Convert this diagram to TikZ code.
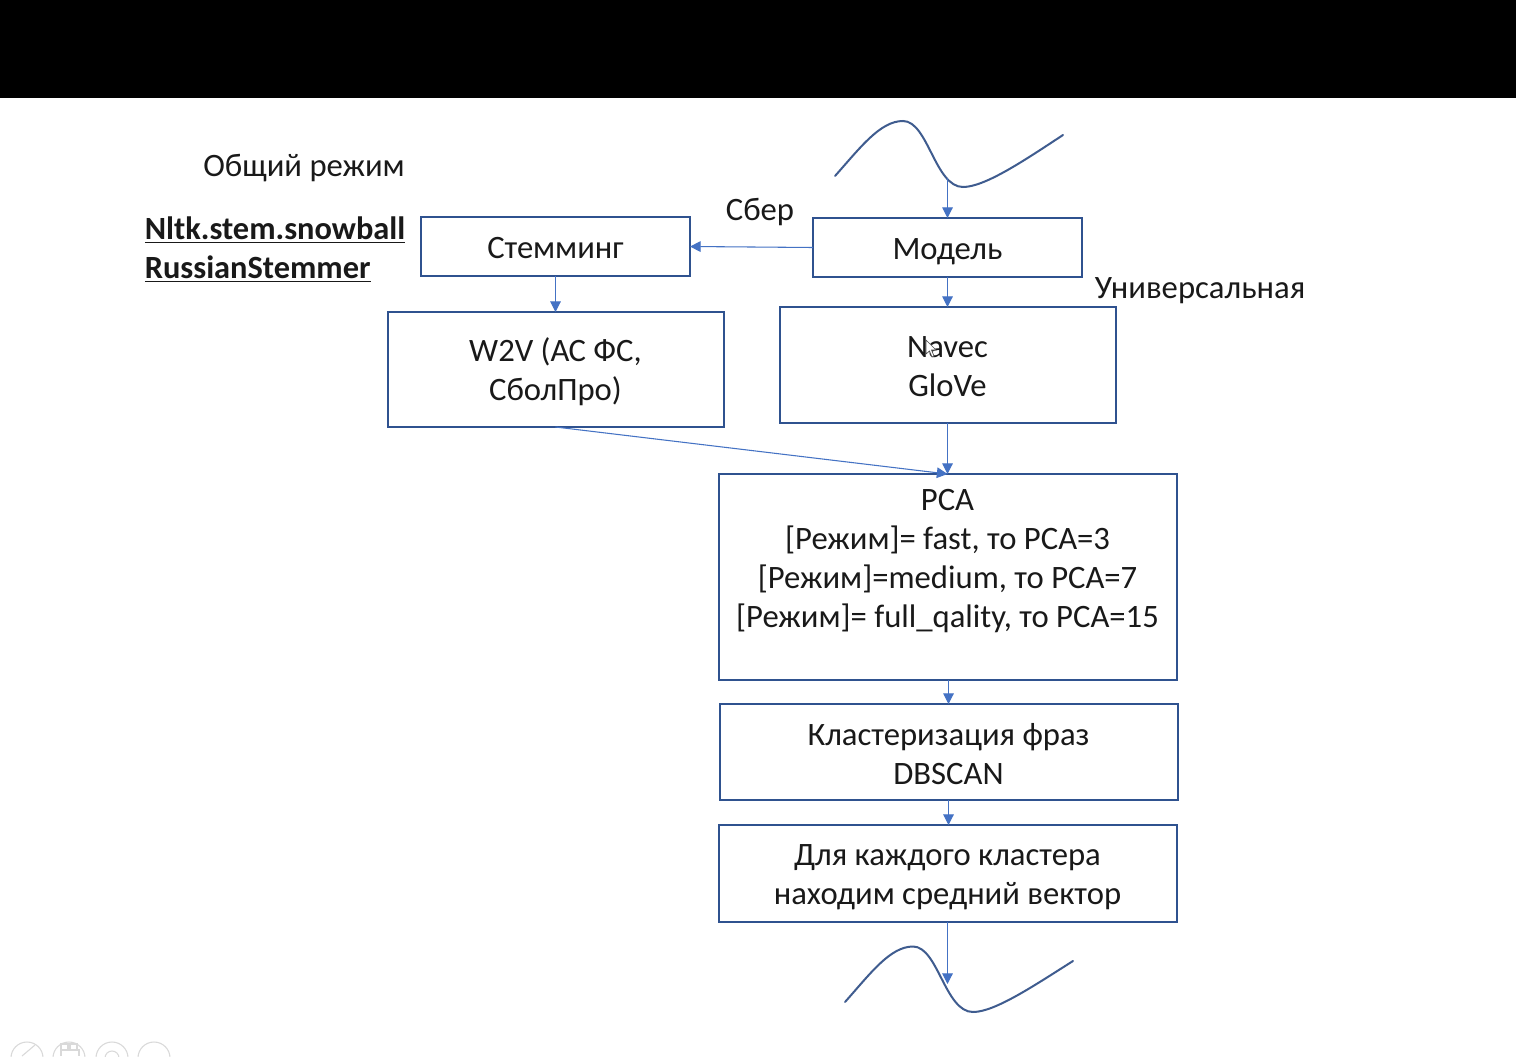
\documentclass[tikz,border=0pt]{standalone}
\usepackage{fontspec}
\setmainfont{Carlito}
\usetikzlibrary{arrows.meta}
\definecolor{boxline}{HTML}{2F528F}
\definecolor{arrowline}{HTML}{4472C4}
\definecolor{curveline}{HTML}{3F5C8F}
\definecolor{faint}{HTML}{D9D9D9}
\newcommand\dnshift[2]{\raisebox{-#1}[\height][\depth]{#2}}
\tikzset{
  x=0.75pt,y=-0.75pt,
  box/.style={draw=boxline,line width=1.5pt,fill=white,inner sep=0pt,outer sep=0pt,align=center,font=\fontsize{24.5}{29.25}\selectfont,text=black!90},
  wh/.style 2 args={minimum width=#1*0.75pt,minimum height=#2*0.75pt},
  lab/.style={inner sep=0pt,font=\fontsize{24.5}{29.25}\selectfont,text=black!90,align=left},
  conn/.style={draw=arrowline,line width=0.8pt,-{Triangle[length=8pt,width=8pt,fill=arrowline]}},
  curvy/.style={draw=curveline,line width=1.5pt,line cap=round},
  ico/.style={draw=faint,line width=0.8pt},
}
\begin{document}
\begin{tikzpicture}
\path[use as bounding box] (0,0) rectangle (1516,1056);
\fill[white] (0,0) rectangle (1516,1056);
\fill[black] (0,0) rectangle (1516,98);
% faint toolbar icons at the bottom edge
\begin{scope}
\clip (0,1000) rectangle (1516,1056);
\foreach \cx in {27,69,112,154} \draw[ico] (\cx,1058) circle[radius=16];
\draw[ico] (22,1056) -- (35,1045);
\draw[ico] (61,1050) rectangle (68,1044);
\draw[ico] (70,1050) rectangle (77,1044);
\draw[ico] (61,1056) -- (61,1050) -- (79,1050) -- (79,1056);
\draw[ico] (112,1058) circle[radius=7];
\end{scope}
% wavy breaks
\draw[curvy] (835,176) .. controls (860,148) and (880,121) .. (903,121)
  .. controls (928,121) and (935,187) .. (963,187)
  .. controls (985,187) and (1025,160) .. (1063,135);
\draw[curvy] (845,1002) .. controls (870,974) and (890,946.5) .. (913,946.5)
  .. controls (938,946.5) and (945,1012) .. (973,1012)
  .. controls (995,1012) and (1035,985) .. (1073,961);
% boxes
\node[box,wh={269}{59}] (stem) at (555.5,246.5) {\dnshift{1.5pt}{Стемминг}};
\node[box,wh={269}{59}] (model) at (947.5,247.5) {\dnshift{2.8pt}{Модель}};
\node[box,wh={336}{115}] (w2v) at (555.5,369.5) {\dnshift{1.5pt}{W2V (АС ФС,}\\\dnshift{1.5pt}{СболПро)}};
\node[box,wh={336}{116}] (navec) at (947.5,365) {\dnshift{1.5pt}{Navec}\\\dnshift{1.5pt}{GloVe}};
\node[box,wh={458}{206}] (pca) at (947.5,577) {\dnshift{0.8pt}{PCA}\\\dnshift{0.8pt}{[Режим]= fast, то PCA=3}\\\dnshift{0.8pt}{[Режим]=medium, то PCA=7}\\\dnshift{0.8pt}{[Режим]= full\_qality, то PCA=15}\\~};
\node[box,wh={458}{96}] (clust) at (948.5,752) {\dnshift{1.5pt}{Кластеризация фраз}\\\dnshift{1.2pt}{DBSCAN}};
\node[box,wh={458}{97}] (each) at (947.5,873.5) {\dnshift{3pt}{Для каждого кластера}\\\dnshift{3pt}{находим средний вектор}};
% labels
\node[lab] (common) at (304,168) {Общий режим};
\node[lab] (sber) at (760,212) {Сбер};
\node[lab] (univ) at (1200,291) {Универсальная};
\node[lab,anchor=west,font=\fontsize{24.3}{29.25}\selectfont\bfseries] (nltk) at (144.5,249.5) {\underline{Nltk.stem.snowball}\\\underline{RussianStemmer}};
% connectors
\coordinate (topstart) at (947.5,178);
\coordinate (botend) at (947.5,984);
\draw[conn] (topstart) -- (model.north);
\draw[conn] (model.west) -- (stem.east);
\draw[conn] (model.south) -- (model.south |- navec.north);
\draw[conn] (stem.south) -- (w2v.north);
\draw[conn] (navec.south) -- (pca.north);
\draw[conn] (w2v.south) -- (pca.north);
\draw[conn] (pca.south -| clust.north) -- (clust.north);
\draw[conn] (clust.south) -- (clust.south |- each.north);
\draw[conn] (each.south) -- (botend);
% mouse pointer
\draw[black!70,fill=white,line width=0.5pt] (926,340) -- (926,354) -- (929.5,351) -- (932,357) -- (934,356) -- (931.5,350) -- (936,350) -- cycle;
\end{tikzpicture}
\end{document}
